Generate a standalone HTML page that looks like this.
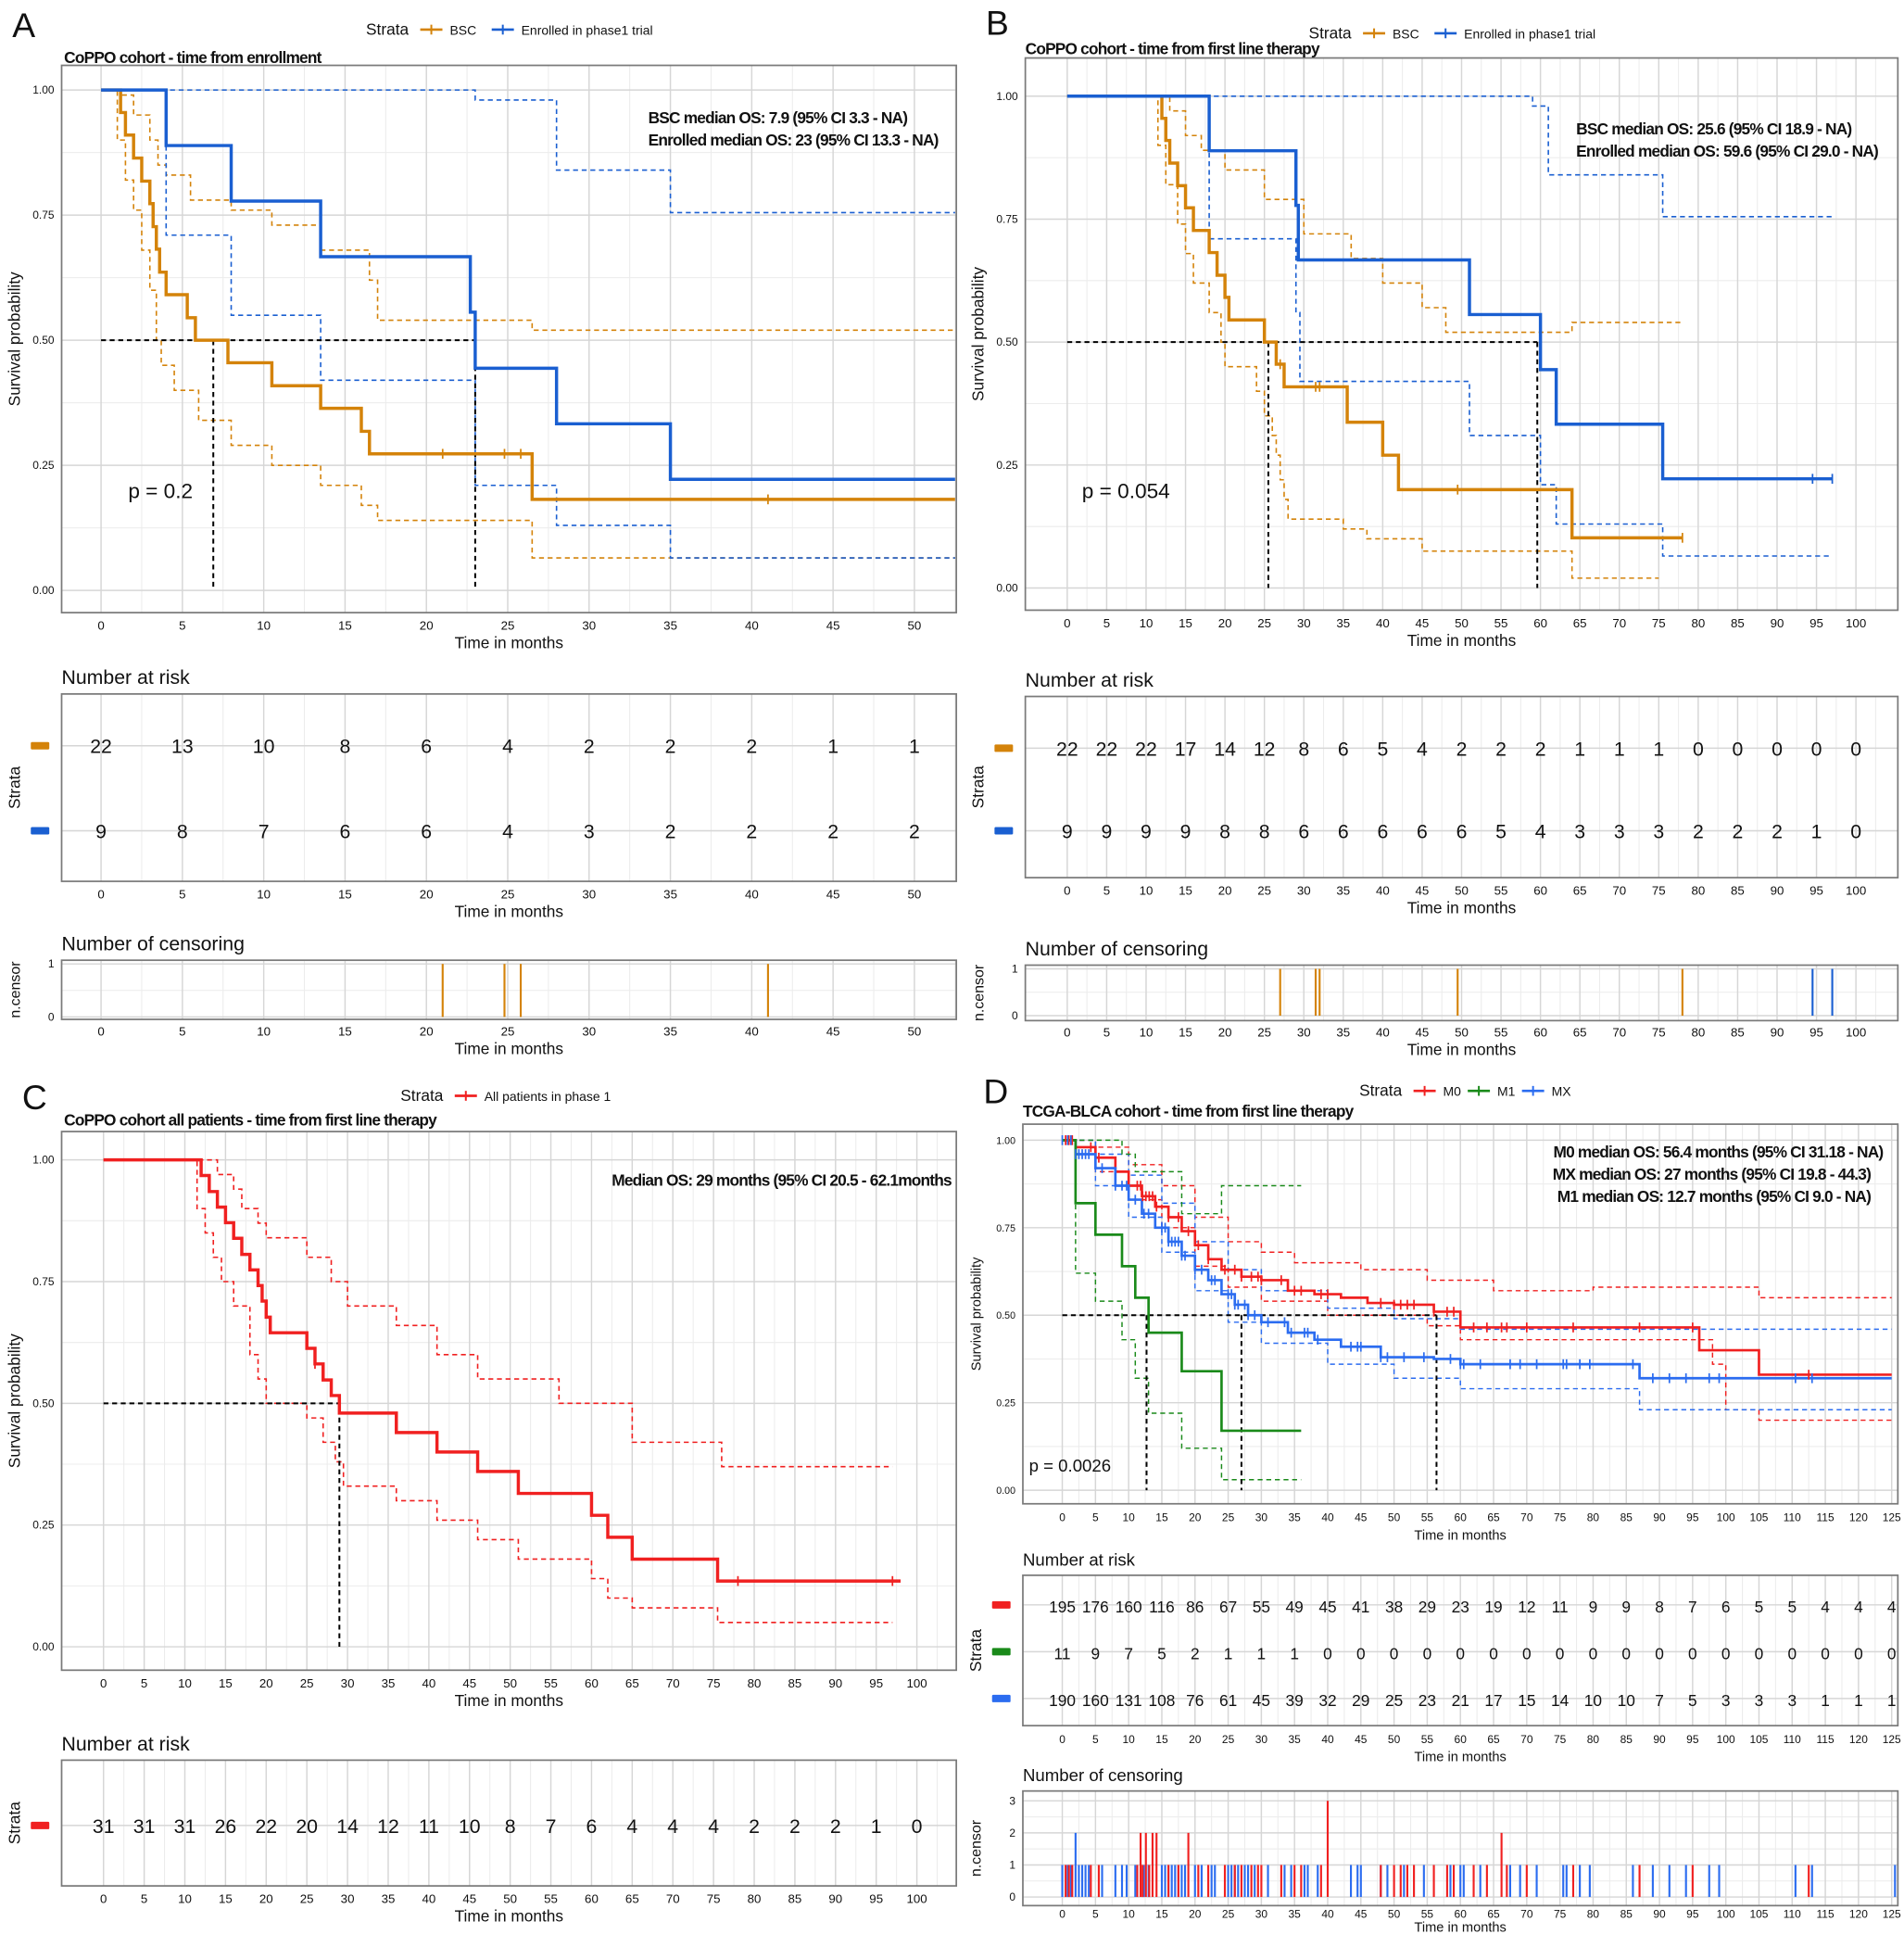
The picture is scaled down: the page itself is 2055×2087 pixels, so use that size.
<!DOCTYPE html>
<html><head><meta charset="utf-8"><title>Survival curves</title>
<style>html,body{margin:0;padding:0;background:#fff}svg{display:block}</style></head>
<body>
<svg id="fig" width="2055" height="2087" viewBox="0 0 1545 1569" xmlns="http://www.w3.org/2000/svg" font-family="Liberation Sans, sans-serif"></svg>
<script>
// ---------- DATA ----------
// Panel A
const aBscT=[0,1.2,1.5,2,2.5,3,3.2,3.4,3.6,4,5.3,5.8,7.8,10.5,13.5,16,16.5,26.5,52.5];
const aBscS=[1,0.955,0.91,0.864,0.818,0.773,0.727,0.682,0.636,0.591,0.545,0.5,0.455,0.409,0.364,0.318,0.273,0.182,0.182];
const aBscUT=[0,1.2,2,3,3.5,4,5.5,8,10.5,13.5,16.5,17,26.5,52.5];
const aBscUS=[1,0.99,0.95,0.9,0.85,0.83,0.78,0.76,0.73,0.68,0.62,0.54,0.52,0.52];
const aBscLT=[0,1,1.5,2,2.5,3,3.4,3.7,4.5,6,8,10.5,13.5,16,17,26.5,52.5];
const aBscLS=[1,0.9,0.82,0.76,0.68,0.6,0.5,0.45,0.4,0.34,0.29,0.25,0.21,0.17,0.14,0.065,0.065];
const aEnrT=[0,4,8,13.5,22.7,23,28,35,52.5];
const aEnrS=[1,0.889,0.778,0.667,0.556,0.444,0.333,0.222,0.222];
const aEnrUT=[0,23,28,35,52.5];
const aEnrUS=[1,0.98,0.84,0.755,0.755];
const aEnrLT=[0,4,8,13.5,23,28,35,52.5];
const aEnrLS=[1,0.71,0.55,0.42,0.21,0.13,0.065,0.065];
const aTimes=[0,5,10,15,20,25,30,35,40,45,50];
const aRiskBsc=[22,13,10,8,6,4,2,2,2,1,1];
const aRiskEnr=[9,8,7,6,6,4,3,2,2,2,2];
const aCensBsc=[21,24.8,25.8,41];
// Panel B
const bBscT=[0,12,12.5,13,14,15,16,18,19,20,20.5,25,26.5,27.5,35.5,40,42,64,78];
const bBscS=[1,0.955,0.91,0.864,0.818,0.773,0.727,0.682,0.636,0.591,0.545,0.5,0.455,0.409,0.337,0.27,0.2,0.102,0.102];
const bBscUT=[0,13,15,17,20,25,30,36,40,45,48,64,78];
const bBscUS=[1,0.97,0.92,0.89,0.85,0.79,0.72,0.67,0.62,0.57,0.52,0.54,0.54];
const bBscLT=[0,11.5,12.5,14,15,16,18,19.5,20,24,25,26,26.5,27,27.5,28,35,38,45,64,75];
const bBscLS=[1,0.9,0.82,0.74,0.68,0.62,0.56,0.5,0.45,0.4,0.35,0.31,0.27,0.22,0.18,0.14,0.12,0.1,0.075,0.02,0.02];
const bEnrT=[0,18,29,29.3,51,60,62,75.5,97];
const bEnrS=[1,0.889,0.778,0.667,0.556,0.444,0.333,0.222,0.222];
const bEnrUT=[0,59,61,75.5,97];
const bEnrUS=[1,0.98,0.84,0.755,0.755];
const bEnrLT=[0,18,29,29.5,51,60,62,75.5,97];
const bEnrLS=[1,0.71,0.56,0.42,0.31,0.21,0.13,0.065,0.065];
const bTimes=[0,5,10,15,20,25,30,35,40,45,50,55,60,65,70,75,80,85,90,95,100];
const bRiskBsc=[22,22,22,17,14,12,8,6,5,4,2,2,2,1,1,1,0,0,0,0,0];
const bRiskEnr=[9,9,9,9,8,8,6,6,6,6,6,5,4,3,3,3,2,2,2,1,0];
const bCensBsc=[27,31.5,32,49.5,78];
const bCensEnr=[94.5,97];
// Panel C
const cAllT=[0,12,13,14,15,16,17,18,19,19.5,20,20.5,25,26,27,28,29,36,41,46,51,60,62,65,75.5,98];
const cAllS=[1,0.968,0.935,0.903,0.871,0.839,0.806,0.774,0.742,0.71,0.677,0.645,0.613,0.581,0.548,0.516,0.48,0.44,0.4,0.36,0.315,0.27,0.225,0.18,0.135,0.135];
const cAllUT=[0,14,16,17,19,20,25,28,30,36,41,46,51,56,65,76,97];
const cAllUS=[1,0.97,0.94,0.9,0.87,0.84,0.8,0.75,0.7,0.66,0.6,0.55,0.55,0.5,0.42,0.37,0.37];
const cAllLT=[0,11.5,12.5,13.5,14.5,16,18,19,20,25,27,28.5,29.5,36,41,46,51,60,62,65,75.5,97];
const cAllLS=[1,0.9,0.85,0.8,0.75,0.7,0.6,0.55,0.5,0.47,0.42,0.38,0.33,0.3,0.26,0.22,0.18,0.14,0.1,0.08,0.05,0.05];
const cTimes=[0,5,10,15,20,25,30,35,40,45,50,55,60,65,70,75,80,85,90,95,100];
const cRisk=[31,31,31,26,22,20,14,12,11,10,8,7,6,4,4,4,2,2,2,1,0];
const cCens=[26,78,97];
// Panel D
const dM0T=[0,2,5,8,10,12,14,16,18,20,22,24,27,30,34,38,42,46,50,56,60,96,105,125];
const dM0S=[1,0.98,0.95,0.91,0.87,0.84,0.81,0.78,0.74,0.7,0.66,0.63,0.61,0.6,0.57,0.56,0.55,0.535,0.53,0.51,0.465,0.4,0.33,0.33];
const dM0UT=[0,5,10,15,20,25,30,35,45,55,65,80,105,125];
const dM0US=[1,0.98,0.93,0.87,0.78,0.71,0.68,0.65,0.63,0.6,0.57,0.58,0.55,0.55];
const dM0LT=[0,5,10,15,20,25,30,40,55,60,98,100,105,125];
const dM0LS=[1,0.91,0.83,0.75,0.64,0.58,0.54,0.5,0.47,0.43,0.36,0.23,0.2,0.2];
const dMXT=[0,2,5,8,10,12,14,16,18,20,22,24,26,28,30,34,38,42,48,56,60,87,125];
const dMXS=[1,0.96,0.92,0.87,0.83,0.79,0.75,0.71,0.67,0.63,0.6,0.56,0.53,0.5,0.48,0.45,0.43,0.41,0.38,0.375,0.36,0.32,0.32];
const dMXUT=[0,5,10,15,20,25,30,40,50,60,125];
const dMXUS=[1,0.96,0.9,0.82,0.71,0.63,0.57,0.52,0.49,0.46,0.46];
const dMXLT=[0,5,10,15,20,25,30,40,50,60,87,125];
const dMXLS=[1,0.87,0.78,0.68,0.57,0.48,0.42,0.36,0.32,0.29,0.23,0.23];
const dM1T=[0,2,5,9,11,13,18,24,36];
const dM1S=[1,0.82,0.73,0.64,0.55,0.45,0.34,0.17,0.17];
const dM1UT=[0,9,11,18,24,36];
const dM1US=[1,0.96,0.91,0.79,0.87,0.87];
const dM1LT=[0,2,5,9,11,13,18,24,36];
const dM1LS=[1,0.62,0.54,0.43,0.32,0.22,0.12,0.03,0.03];
const dTimes=[0,5,10,15,20,25,30,35,40,45,50,55,60,65,70,75,80,85,90,95,100,105,110,115,120,125];
const dRiskM0=[195,176,160,116,86,67,55,49,45,41,38,29,23,19,12,11,9,9,8,7,6,5,5,4,4,4];
const dRiskM1=[11,9,7,5,2,1,1,1,0,0,0,0,0,0,0,0,0,0,0,0,0,0,0,0,0,0];
const dRiskMX=[190,160,131,108,76,61,45,39,32,29,25,23,21,17,15,14,10,10,7,5,3,3,3,1,1,1];
const dCensRedT=[0.5,1,1.5,4.3,5.5,11.3,11.8,12.1,12.6,13.1,13.6,14.2,16,17.5,19,20.5,22,24.5,26,27,28.5,29.5,30,33,35,36,39,40,48,50,51,52,53,56,58,59,62,64,66.2,67,70,77,87,95,112.5];
const dCensRedN=[1,1,1,1,1,1,2,1,2,1,2,2,1,1,2,1,1,1,1,1,1,1,1,1,1,1,1,3,1,1,1,1,1,1,1,1,1,1,2,1,1,1,1,1,1];
const dCensBlueT=[0,0.8,1.3,2,2.5,3,3.5,4,6,8,9,9.7,11,12.3,13,15,15.5,16,16.5,17,17.5,18,18.5,20,21,22.5,23,25,25.5,26,26.5,27.5,28,29,31,33.5,34.5,36.5,37,38.5,43.5,44.5,45,48,49,51.5,54.5,58.5,60,60.5,63,67.5,69,71.5,75.5,76,78,79.5,86,89,91.5,94,97.5,99,110.5,113,125.5];
const dCensBlueN=[1,1,1,2,1,1,1,1,1,1,1,1,1,1,1,1,1,1,1,1,1,1,1,1,1,1,1,1,1,1,1,1,1,1,1,1,1,1,1,1,1,1,1,1,1,1,1,1,1,1,1,1,1,1,1,1,1,1,1,1,1,1,1,1,1,1,1];

// ---------- HELPERS ----------
const NS='http://www.w3.org/2000/svg';
const svg=document.getElementById('fig');
const ORANGE='#d4830a',BLUE='#1a5fd1',RED='#f02020',GREEN='#1a8a1a',DBLUE='#2b6cf0';
function mk(tag,attrs,name,parent){
  const el=document.createElementNS(NS,tag);
  for(const k in attrs) el.setAttribute(k,attrs[k]);
  
  
  (parent||svg).appendChild(el);
  return el;
}
function txt(x,y,s,size,opts,name){
  const t=mk('text',Object.assign({x:x,y:y,'font-size':size,fill:'#111'},opts||{}),name);
  t.textContent=s;return t;
}
function axisX(g){return t=>g.x0+t*g.kx;}
function axisY(g){return s=>g.yb-s*(g.yb-g.yt);}
function grid(fr,X,xt,yvals,name,minorX){
  mk('rect',{x:fr[0],y:fr[1],width:fr[2]-fr[0],height:fr[3]-fr[1],fill:'#fff'},name+'-bg');
  if(minorX){for(let i=0;i<xt.length-1;i++){const m=X((xt[i]+xt[i+1])/2);
    mk('line',{x1:m,x2:m,y1:fr[1],y2:fr[3],stroke:'#ececec','stroke-width':0.8},name+'-minor-x');}
    const lm=X(xt[xt.length-1]+(xt[1]-xt[0])/2); if(lm<fr[2]) mk('line',{x1:lm,x2:lm,y1:fr[1],y2:fr[3],stroke:'#ececec','stroke-width':0.8},name+'-minor-x');}
  yvals.forEach(v=>mk('line',{x1:fr[0],x2:fr[2],y1:v.y,y2:v.y,stroke:v.minor?'#ececec':'#d6d6d6','stroke-width':v.minor?0.8:1.1},name+'-grid-y'));
  xt.forEach(t=>mk('line',{x1:X(t),x2:X(t),y1:fr[1],y2:fr[3],stroke:'#d6d6d6','stroke-width':1.1},name+'-grid-x'));
}
function frame(fr,name){mk('rect',{x:fr[0],y:fr[1],width:fr[2]-fr[0],height:fr[3]-fr[1],fill:'none',stroke:'#7a7a7a','stroke-width':1.3},name);}
function xlabels(X,xt,y,size,name){xt.forEach(t=>txt(X(t),y,String(t),size,{'text-anchor':'middle'},name));}
function stepPath(T,S,X,Y,color,w,dash,name){
  let d='M'+X(T[0])+' '+Y(S[0]);
  for(let i=1;i<T.length;i++){d+=' H'+X(T[i])+' V'+Y(S[i]);}
  const a={d:d,fill:'none',stroke:color,'stroke-width':w};
  if(dash) a['stroke-dasharray']=dash;
  return mk('path',a,name);
}
function survAt(T,S,t){let s=S[0];for(let i=0;i<T.length;i++){if(T[i]<=t)s=S[i];}return s;}
function censMarks(T,S,times,X,Y,color,name){times.forEach(t=>{const x=X(t),y=Y(survAt(T,S,t));
  mk('line',{x1:x,x2:x,y1:y-4,y2:y+4,stroke:color,'stroke-width':1.3},name);});}
function survPlot(g,name){
  const X=axisX(g),Y=axisY(g);
  const yv=[];[0,0.25,0.5,0.75,1].forEach(s=>yv.push({y:Y(s)}));[0.125,0.375,0.625,0.875].forEach(s=>yv.push({y:Y(s),minor:true}));
  grid(g.fr,X,g.ticks,yv,name,true);
  [0,0.25,0.5,0.75,1].forEach(s=>txt(g.fr[0]-6,Y(s)+3,s.toFixed(2),g.ys||9,{'text-anchor':'end'},name+'-y-tick'));
  xlabels(X,g.ticks,g.fr[3]+14,g.xs||10,name+'-x-tick');
  txt((g.fr[0]+g.fr[2])/2,g.fr[3]+29,'Time in months',g.ts||13,{'text-anchor':'middle'},name+'-x-axis-title');
  const cy=(g.fr[1]+g.fr[3])/2,cx=g.fr[0]-34;
  txt(cx,cy,'Survival probability',g.ts||13,{'text-anchor':'middle',transform:'rotate(-90 '+cx+' '+cy+')'},name+'-y-axis-title');
  return {X:X,Y:Y};
}
function riskTable(g,rows,name){
  const X=axisX(g);
  const yv=rows.map(r=>({y:r.y}));
  grid(g.fr,X,g.ticks,yv,name,true);
  rows.forEach(r=>{r.vals.forEach((v,i)=>txt(X(g.ticks[i]),r.y+6,String(v),g.ns||16,{'text-anchor':'middle'},name+'-value'));
    mk('rect',{x:g.fr[0]-25,y:r.y-3,width:15,height:6,fill:r.color,rx:1},name+'-strata-key');});
  frame(g.fr,name+'-frame');
  xlabels(X,g.ticks,g.fr[3]+14,g.xs||10,name+'-x-tick');
  txt((g.fr[0]+g.fr[2])/2,g.fr[3]+29,'Time in months',g.ts||13,{'text-anchor':'middle'},name+'-x-axis-title');
  const cy=(g.fr[1]+g.fr[3])/2,cx=g.fr[0]-34;
  txt(cx,cy,'Strata',13,{'text-anchor':'middle',transform:'rotate(-90 '+cx+' '+cy+')'},name+'-y-axis-title');
  txt(g.fr[0],g.fr[1]-8,'Number at risk',g.hs||16,{},name+'-title');
}
function censPlot(g,series,maxN,name){
  const X=axisX(g);const Y=n=>g.yb-n*(g.yb-g.yt)/maxN;
  const yv=[];for(let n=0;n<=maxN;n++){yv.push({y:Y(n)});if(n<maxN)yv.push({y:Y(n+0.5),minor:true});}
  grid(g.fr,X,g.ticks,yv,name,true);
  series.forEach(s=>s.T.forEach((t,i)=>mk('line',{x1:X(t),x2:X(t),y1:Y(0),y2:Y(s.N?s.N[i]:1),stroke:s.color,'stroke-width':1.6},name+'-bar')));
  frame(g.fr,name+'-frame');
  for(let n=0;n<=maxN;n++) txt(g.fr[0]-6,Y(n)+3,String(n),9,{'text-anchor':'end'},name+'-y-tick');
  xlabels(X,g.ticks,g.fr[3]+(g.lo||13),g.xs||10,name+'-x-tick');
  txt((g.fr[0]+g.fr[2])/2,g.fr[3]+(g.to||28),'Time in months',g.ts||13,{'text-anchor':'middle'},name+'-x-axis-title');
  const cy=(g.fr[1]+g.fr[3])/2,cx=g.fr[0]-34;
  txt(cx,cy,'n.censor',12,{'text-anchor':'middle',transform:'rotate(-90 '+cx+' '+cy+')'},name+'-y-axis-title');
  txt(g.fr[0],g.fr[1]-8,'Number of censoring',g.hs||16,{},name+'-title');
}
function legend(x,y,items,name){
  txt(x,y,'Strata',13,{},name+'-title');
  let cx=x+44;
  items.forEach(it=>{mk('line',{x1:cx,x2:cx+18,y1:y-4,y2:y-4,stroke:it.color,'stroke-width':2},name+'-key');
    mk('line',{x1:cx+9,x2:cx+9,y1:y-8,y2:y,stroke:it.color,'stroke-width':1.5},name+'-key-tick');
    txt(cx+24,y,it.label,10.5,{},name+'-label');cx+=24+it.w;});
}
function bold(x,y,s,size,name,anchor){return txt(x,y,s,size,{'font-weight':'bold','letter-spacing':-0.6,'text-anchor':anchor||'start'},name);}
const ticks=(a,b,st)=>{const r=[];for(let v=a;v<=b;v+=st)r.push(v);return r;};
const DASH='4,3';

// ---------- PANEL A ----------
txt(10,30,'A',28,{},'panel-a-letter');
legend(297,28,[{color:ORANGE,label:'BSC',w:34},{color:BLUE,label:'Enrolled in phase1 trial',w:120}],'panel-a-legend');
const gA={fr:[50,53,776,497],x0:82,kx:13.2,yt:73,yb:479,ticks:ticks(0,50,5)};
const pA=survPlot(gA,'panel-a-plot');
stepPath(aBscUT,aBscUS,pA.X,pA.Y,ORANGE,1.2,DASH,'a-bsc-ci-upper');
stepPath(aBscLT,aBscLS,pA.X,pA.Y,ORANGE,1.2,DASH,'a-bsc-ci-lower');
stepPath(aEnrUT,aEnrUS,pA.X,pA.Y,BLUE,1.2,DASH,'a-enrolled-ci-upper');
stepPath(aEnrLT,aEnrLS,pA.X,pA.Y,BLUE,1.2,DASH,'a-enrolled-ci-lower');
mk('path',{d:'M'+pA.X(0)+' '+pA.Y(0.5)+' H'+pA.X(23)+' M'+pA.X(6.9)+' '+pA.Y(0.5)+' V'+pA.Y(0)+' M'+pA.X(23)+' '+pA.Y(0.5)+' V'+pA.Y(0),stroke:'#000','stroke-width':1.5,'stroke-dasharray':DASH,fill:'none'},'a-median-lines');
stepPath(aBscT,aBscS,pA.X,pA.Y,ORANGE,2.6,null,'a-bsc-curve');
stepPath(aEnrT,aEnrS,pA.X,pA.Y,BLUE,2.6,null,'a-enrolled-curve');
censMarks(aBscT,aBscS,aCensBsc,pA.X,pA.Y,ORANGE,'a-bsc-censor-mark');
frame(gA.fr,'panel-a-frame');
bold(52,51,'CoPPO  cohort - time from enrollment',13,'panel-a-title');
bold(526,100,'BSC median OS: 7.9 (95% CI 3.3 - NA)',13,'a-bsc-median-text');
bold(526,118,'Enrolled median OS: 23 (95% CI 13.3 - NA)',13,'a-enrolled-median-text');
txt(104,404,'p = 0.2',17,{},'a-p-value');
riskTable({fr:[50,563,776,715],x0:82,kx:13.2,ticks:aTimes},[{y:605,vals:aRiskBsc,color:ORANGE},{y:674,vals:aRiskEnr,color:BLUE}],'a-risk-table');
censPlot({fr:[50,779,776,827],x0:82,kx:13.2,yt:782,yb:825,ticks:aTimes},[{T:aCensBsc,color:ORANGE}],1,'a-censor-plot');

// ---------- PANEL B ----------
txt(800,28,'B',28,{},'panel-b-letter');
legend(1062,31,[{color:ORANGE,label:'BSC',w:34},{color:BLUE,label:'Enrolled in phase1 trial',w:120}],'panel-b-legend');
const gB={fr:[832,47,1540,495],x0:866,kx:6.4,yt:78,yb:477,ticks:ticks(0,100,5)};
const pB=survPlot(gB,'panel-b-plot');
stepPath(bBscUT,bBscUS,pB.X,pB.Y,ORANGE,1.2,DASH,'b-bsc-ci-upper');
stepPath(bBscLT,bBscLS,pB.X,pB.Y,ORANGE,1.2,DASH,'b-bsc-ci-lower');
stepPath(bEnrUT,bEnrUS,pB.X,pB.Y,BLUE,1.2,DASH,'b-enrolled-ci-upper');
stepPath(bEnrLT,bEnrLS,pB.X,pB.Y,BLUE,1.2,DASH,'b-enrolled-ci-lower');
mk('path',{d:'M'+pB.X(0)+' '+pB.Y(0.5)+' H'+pB.X(59.6)+' M'+pB.X(25.5)+' '+pB.Y(0.5)+' V'+pB.Y(0)+' M'+pB.X(59.6)+' '+pB.Y(0.5)+' V'+pB.Y(0),stroke:'#000','stroke-width':1.5,'stroke-dasharray':DASH,fill:'none'},'b-median-lines');
stepPath(bBscT,bBscS,pB.X,pB.Y,ORANGE,2.6,null,'b-bsc-curve');
stepPath(bEnrT,bEnrS,pB.X,pB.Y,BLUE,2.6,null,'b-enrolled-curve');
censMarks(bBscT,bBscS,bCensBsc,pB.X,pB.Y,ORANGE,'b-bsc-censor-mark');
censMarks(bEnrT,bEnrS,bCensEnr,pB.X,pB.Y,BLUE,'b-enrolled-censor-mark');
frame(gB.fr,'panel-b-frame');
bold(832,44,'CoPPO  cohort - time from first line therapy',13,'panel-b-title');
bold(1279,109,'BSC median OS: 25.6 (95% CI 18.9 - NA)',13,'b-bsc-median-text');
bold(1279,127,'Enrolled median OS: 59.6 (95% CI 29.0  - NA)',13,'b-enrolled-median-text');
txt(878,404,'p = 0.054',17,{},'b-p-value');
riskTable({fr:[832,565,1540,712],x0:866,kx:6.4,ticks:bTimes},[{y:607,vals:bRiskBsc,color:ORANGE},{y:674,vals:bRiskEnr,color:BLUE}],'b-risk-table');
censPlot({fr:[832,783,1540,828],x0:866,kx:6.4,yt:786,yb:824,ticks:bTimes},[{T:bCensBsc,color:ORANGE},{T:bCensEnr,color:BLUE}],1,'b-censor-plot');

// ---------- PANEL C ----------
txt(18,900,'C',28,{},'panel-c-letter');
legend(325,893,[{color:RED,label:'All patients in phase 1',w:120}],'panel-c-legend');
const gC={fr:[50,918,776,1355],x0:84,kx:6.6,yt:941,yb:1336,ticks:ticks(0,100,5)};
const pC=survPlot(gC,'panel-c-plot');
stepPath(cAllUT,cAllUS,pC.X,pC.Y,RED,1.2,DASH,'c-all-ci-upper');
stepPath(cAllLT,cAllLS,pC.X,pC.Y,RED,1.2,DASH,'c-all-ci-lower');
mk('path',{d:'M'+pC.X(0)+' '+pC.Y(0.5)+' H'+pC.X(29)+' V'+pC.Y(0),stroke:'#000','stroke-width':1.5,'stroke-dasharray':DASH,fill:'none'},'c-median-lines');
stepPath(cAllT,cAllS,pC.X,pC.Y,RED,2.6,null,'c-all-curve');
censMarks(cAllT,cAllS,cCens,pC.X,pC.Y,RED,'c-censor-mark');
frame(gC.fr,'panel-c-frame');
bold(52,913,'CoPPO cohort all patients  - time from first line therapy',13,'panel-c-title');
bold(772,962,'Median OS: 29 months (95% CI 20.5 - 62.1months',13,'c-median-text','end');
riskTable({fr:[50,1428,776,1530],x0:84,kx:6.6,ticks:cTimes},[{y:1481,vals:cRisk,color:RED}],'c-risk-table');

// ---------- PANEL D ----------
txt(798,895,'D',28,{},'panel-d-letter');
legend(1103,889,[{color:RED,label:'M0',w:20},{color:GREEN,label:'M1',w:20},{color:DBLUE,label:'MX',w:20}],'panel-d-legend');
const gD={fr:[830,912,1540,1220],x0:862,kx:5.384,yt:925,yb:1209,ticks:ticks(0,125,5),xs:9,ys:8,ts:11};
const pD=survPlot(gD,'panel-d-plot');
stepPath(dM0UT,dM0US,pD.X,pD.Y,RED,1.1,DASH,'d-m0-ci-upper');
stepPath(dM0LT,dM0LS,pD.X,pD.Y,RED,1.1,DASH,'d-m0-ci-lower');
stepPath(dMXUT,dMXUS,pD.X,pD.Y,DBLUE,1.1,DASH,'d-mx-ci-upper');
stepPath(dMXLT,dMXLS,pD.X,pD.Y,DBLUE,1.1,DASH,'d-mx-ci-lower');
stepPath(dM1UT,dM1US,pD.X,pD.Y,GREEN,1.1,DASH,'d-m1-ci-upper');
stepPath(dM1LT,dM1LS,pD.X,pD.Y,GREEN,1.1,DASH,'d-m1-ci-lower');
mk('path',{d:'M'+pD.X(0)+' '+pD.Y(0.5)+' H'+pD.X(56.4)+' M'+pD.X(12.7)+' '+pD.Y(0.5)+' V'+pD.Y(0)+' M'+pD.X(27)+' '+pD.Y(0.5)+' V'+pD.Y(0)+' M'+pD.X(56.4)+' '+pD.Y(0.5)+' V'+pD.Y(0),stroke:'#000','stroke-width':1.5,'stroke-dasharray':DASH,fill:'none'},'d-median-lines');
stepPath(dM0T,dM0S,pD.X,pD.Y,RED,2,null,'d-m0-curve');
stepPath(dMXT,dMXS,pD.X,pD.Y,DBLUE,2,null,'d-mx-curve');
stepPath(dM1T,dM1S,pD.X,pD.Y,GREEN,2,null,'d-m1-curve');
censMarks(dM0T,dM0S,dCensRedT,pD.X,pD.Y,RED,'d-m0-censor-mark');
censMarks(dMXT,dMXS,dCensBlueT.filter(t=>t<=125),pD.X,pD.Y,DBLUE,'d-mx-censor-mark');
frame(gD.fr,'panel-d-frame');
bold(830,906,'TCGA-BLCA cohort - time from first line therapy',13,'panel-d-title');
bold(1528,939,'M0 median OS: 56.4 months (95% CI 31.18 - NA)',13,'d-m0-median-text','end');
bold(1518,957,'MX median OS: 27 months (95% CI 19.8 - 44.3)',13,'d-mx-median-text','end');
bold(1518,975,'M1 median OS: 12.7 months (95% CI 9.0  - NA)',13,'d-m1-median-text','end');
txt(835,1194,'p = 0.0026',14,{},'d-p-value');
riskTable({fr:[830,1278,1540,1400],x0:862,kx:5.384,ticks:dTimes,ns:13,xs:9,ts:11,hs:14},[{y:1302,vals:dRiskM0,color:RED},{y:1340,vals:dRiskM1,color:GREEN},{y:1378,vals:dRiskMX,color:DBLUE}],'d-risk-table');
censPlot({fr:[830,1453,1540,1546],x0:862,kx:5.384,yt:1461,yb:1539,ticks:dTimes,xs:9,ts:11,hs:14,lo:10,to:21},[{T:dCensBlueT,N:dCensBlueN,color:DBLUE},{T:dCensRedT,N:dCensRedN,color:RED}],3,'d-censor-plot');
</script>
</body></html>
